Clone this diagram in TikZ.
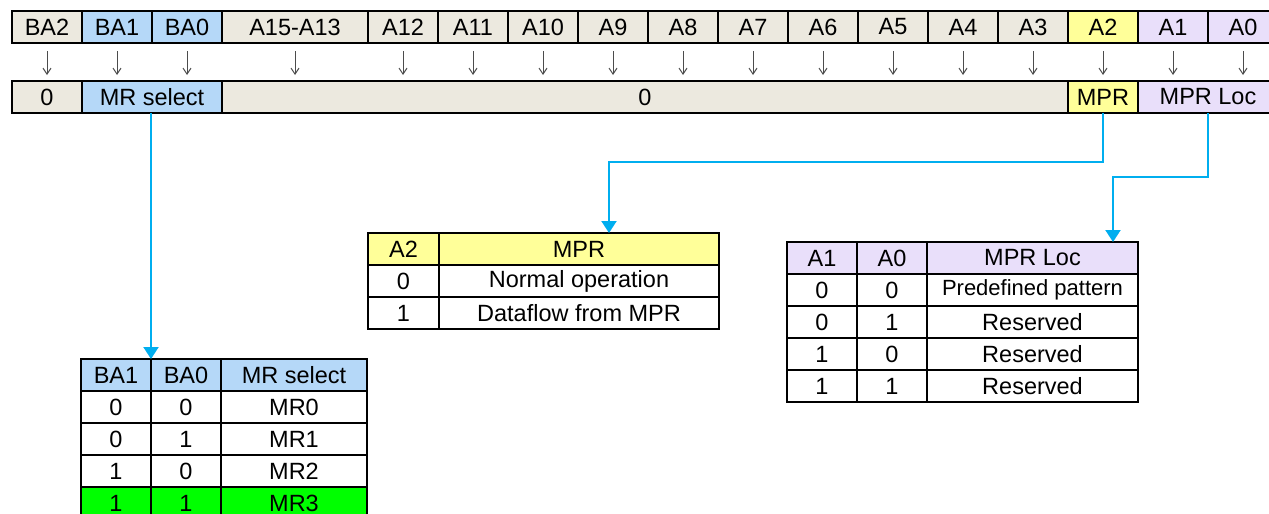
\documentclass[tikz,border=0pt]{standalone}
\usepackage{fontspec}
\setmainfont{Liberation Sans}
\usetikzlibrary{positioning,arrows.meta}
\definecolor{bitgray}{HTML}{ECE9DF}
\definecolor{selblue}{HTML}{B5D8F8}
\definecolor{mpryellow}{HTML}{FFFF99}
\definecolor{loclilac}{HTML}{E9DFFA}
\definecolor{mrgreen}{HTML}{00FF00}
\definecolor{lineblue}{HTML}{00AEEF}
\tikzset{
  cell/.style={draw, line width=1.8pt, inner sep=0pt, outer sep=0pt, minimum width=70pt, minimum height=32pt, font=\fontsize{23.5}{28}\selectfont},
  bitarrow/.style={draw=black!70, line width=1pt, -{Straight Barb[length=6pt,width=8pt]}, shorten <=8pt, shorten >=6pt},
  selline/.style={draw=lineblue, line width=2pt, -{Triangle[length=12pt,width=15pt]}}
}
\begin{document}
\begin{tikzpicture}[x=1pt,y=-1pt]
\useasboundingbox[fill=white] (0,0) rectangle (1269,514);
% address bits
\node[cell, fill=bitgray] (ba2) at (47,27) {BA2};
\node[cell, fill=selblue, right=0pt of ba2] (ba1) {BA1};
\node[cell, fill=selblue, right=0pt of ba1] (ba0) {BA0};
\node[cell, fill=bitgray, minimum width=146pt, right=0pt of ba0] (a15) {A15-A13};
\foreach \n [remember=\n as \p (initially 15)] in {12,...,3}
  \node[cell, fill=bitgray, right=0pt of a\p] (a\n) {A\n};
\node[cell, fill=mpryellow, right=0pt of a3] (a2) {A2};
\node[cell, fill=loclilac, right=0pt of a2] (a1) {A1};
\node[cell, fill=loclilac, right=0pt of a1] (a0) {A0};
% mode register fields
\node[cell, fill=bitgray, below=38pt of ba2] (z0) {0};
\node[cell, fill=selblue, minimum width=140pt, right=0pt of z0] (mrsel) {MR select};
\node[cell, fill=bitgray, minimum width=846pt, right=0pt of mrsel] (zmid) {0};
\node[cell, fill=mpryellow, right=0pt of zmid] (mpr) {MPR};
\node[cell, fill=loclilac, minimum width=140pt, right=0pt of mpr] (mprloc) {MPR Loc};
\foreach \n in {ba2,ba1,ba0,a15,a12,a11,a10,a9,a8,a7,a6,a5,a4,a3,a2,a1,a0}
  \draw[bitarrow] (\n) -- (\n |- z0.north);
% MR select table
\node[cell, fill=selblue] (mrh1) at (116,375) {BA1};
\node[cell, fill=selblue, right=0pt of mrh1] (mrh2) {BA0};
\node[cell, fill=selblue, minimum width=146pt, right=0pt of mrh2] (mrh3) {MR select};
\foreach \a/\b/\m/\f [count=\i] in {0/0/MR0/white,0/1/MR1/white,1/0/MR2/white,1/1/MR3/mrgreen}{
  \node[cell, fill=\f] (mra\i) at (116,375+32*\i) {\a};
  \node[cell, fill=\f, right=0pt of mra\i] (mrb\i) {\b};
  \node[cell, fill=\f, minimum width=146pt, right=0pt of mrb\i] (mrc\i) {\m};
}
% MPR table
\node[cell, fill=mpryellow, minimum width=71pt] (mprh1) at (403.5,249) {A2};
\node[cell, fill=mpryellow, minimum width=280pt, right=0pt of mprh1] (mprh2) {MPR};
\foreach \a/\m [count=\i] in {0/Normal operation,1/Dataflow from MPR}{
  \node[cell, minimum width=71pt] (mpra\i) at (403.5,249+32*\i) {\a};
  \node[cell, minimum width=280pt, right=0pt of mpra\i] (mprb\i) {\m};
}
% MPR Loc table
\node[cell, fill=loclilac] (loch1) at (822,258) {A1};
\node[cell, fill=loclilac, right=0pt of loch1] (loch2) {A0};
\node[cell, fill=loclilac, minimum width=211pt, right=0pt of loch2] (loch3) {MPR Loc};
\foreach \a/\b/\m [count=\i] in {0/0/{\fontsize{22}{26}\selectfont Predefined pattern},0/1/Reserved,1/0/Reserved,1/1/Reserved}{
  \node[cell] (loca\i) at (822,258+32*\i) {\a};
  \node[cell, right=0pt of loca\i] (locb\i) {\b};
  \node[cell, minimum width=211pt, right=0pt of locb\i] (locc\i) {\m};
}
% connectors
\coordinate (mprbend) at (609,162);
\coordinate (locbend) at (1113,177);
\draw[selline] (mrh1.north east |- mrsel.south) -- (mrh1.north east);
\draw[selline] (mpr.south) |- (mprbend) -- (mprbend |- mprh2.north);
\draw[selline] (mprloc.south) |- (locbend) -- (locbend |- loch3.north);
\end{tikzpicture}
\end{document}
